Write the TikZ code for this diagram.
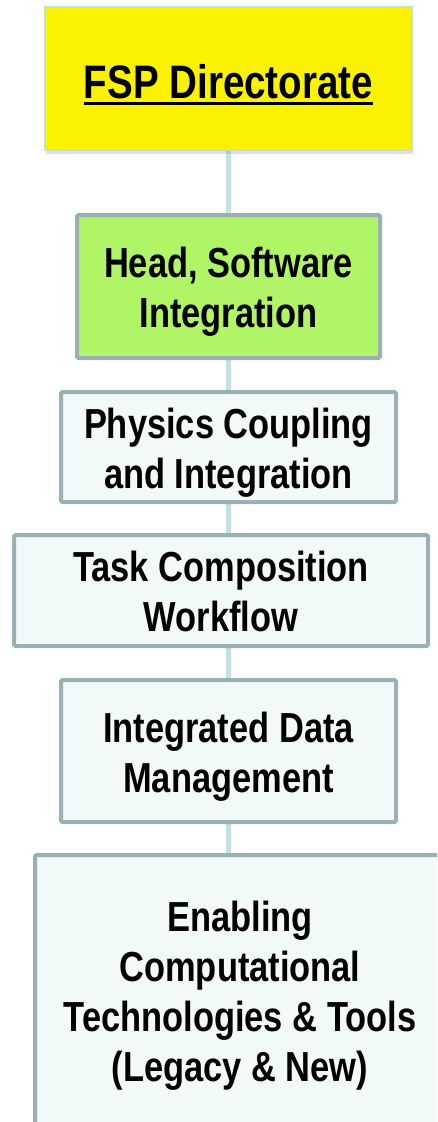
\documentclass[tikz,border=0pt]{standalone}
\usepackage{fontspec}
\setmainfont{Liberation Sans}[FakeStretch=0.82]
\usetikzlibrary{shadows,backgrounds}
\definecolor{dirfill}{HTML}{FAF200}
\definecolor{dirborder}{HTML}{C0DEE6}
\definecolor{headfill}{HTML}{B0F566}
\definecolor{boxborder}{HTML}{9BB0B4}
\definecolor{boxfill}{HTML}{F1F9F9}
\definecolor{linkcol}{HTML}{C4E1E6}
\newcommand\thickul[1]{\setbox0\hbox{#1}\rlap{\rule[-7pt]{\wd0}{3pt}}\box0}
\tikzset{
  orgbox/.style={draw=boxborder, line width=4pt, fill=boxfill, rounded corners=1.5pt,
    inner sep=0pt, align=center, font=\fontsize{42}{50}\selectfont\bfseries,
    text depth=8pt},
  twoline/.style={text height=90pt},
  dirbox/.style={draw=dirborder, line width=2pt, fill=dirfill, inner sep=0pt,
    font=\fontsize{47}{56}\selectfont\bfseries, text height=44pt, text depth=5pt,
    drop shadow={shadow xshift=1pt, shadow yshift=-4pt, opacity=0.25}},
  link/.style={draw=linkcol, line width=5pt}
}
\begin{document}
\begin{tikzpicture}[x=1pt,y=-1pt]
\useasboundingbox (0,0) rectangle (437,1122);
\clip (0,0) rectangle (437,1122);
\node[dirbox, minimum width=367pt, minimum height=143pt] (dir) at (228.5,78.5) {\thickul{FSP Directorate}};
\node[orgbox, twoline, fill=headfill, minimum width=303pt, minimum height=143pt] (head) at (228.5,286.5) {Head, Software\\Integration};
\node[orgbox, twoline, minimum width=335pt, minimum height=110pt] (phys) at (228.5,447) {Physics Coupling\\and Integration};
\node[orgbox, twoline, minimum width=414pt, minimum height=111pt] (task) at (221,590.5) {Task Composition\\Workflow};
\node[orgbox, twoline, minimum width=335pt, minimum height=142pt] (data) at (228.5,751) {Integrated Data\\Management};
\node[orgbox, text height=190pt, minimum width=410pt, minimum height=270pt] (tools) at (240,990) {Enabling\\Computational\\Technologies \& Tools\\(Legacy \& New)};
\begin{scope}[on background layer]
\draw[link] (dir.south) -- (head.north);
\draw[link] (head.south) -- (phys.north);
\draw[link] (phys.south) -- (phys.south |- task.north);
\draw[link] (phys.south |- task.south) -- (phys.south |- data.north);
\draw[link] (data.south) -- (data.south |- tools.north);
\end{scope}
\end{tikzpicture}
\end{document}
